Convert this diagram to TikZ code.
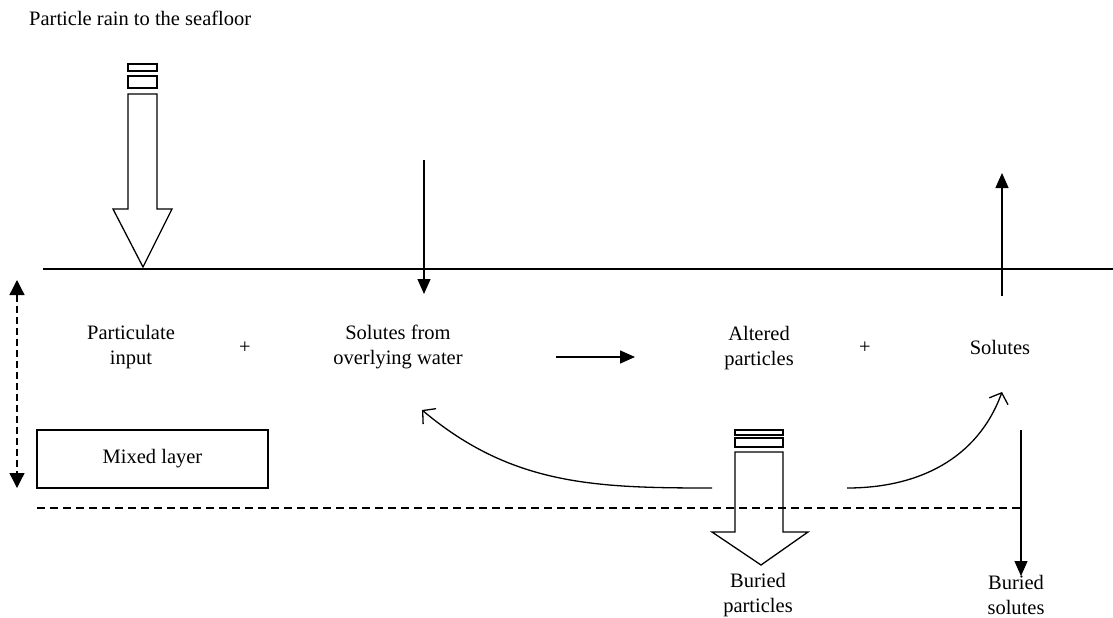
\documentclass[tikz,border=0pt]{standalone}
\usepackage{fontspec}
\setmainfont{Liberation Serif}
\usetikzlibrary{arrows.meta}

\tikzset{
    text node/.style={align=center, inner sep=0, font=\fontsize{20.5}{25}\selectfont},
    box node/.style={draw, line width=1.3pt, minimum width=231pt, minimum height=58pt, font=\fontsize{20.5}{25}\selectfont},
    flux/.style={line width=1.3pt, -{Triangle[length=15pt,width=13pt]}},
    barb/.style={line width=1.3pt, -{Straight Barb[length=9pt,width=20pt]}},
    hollow/.style={draw, line width=1.3pt},
    thin/.style={line width=1.3pt}
    }

\begin{document}
\begin{tikzpicture}[x=1pt,y=-1pt]
                \useasboundingbox (0,0) rectangle (1113,618);
                % texts
                \node(rain)[text node, anchor=base west] at (29,26) {Particle rain to the seafloor};
                \node(partin)[text node] at (131,347) {Particulate\\input};
                \node(plus1)[text node] at (245,348) {+};
                \node(solin)[text node] at (398,347) {Solutes from\\overlying water};
                \node(altered)[text node] at (759,348) {Altered\\particles};
                \node(plus2)[text node] at (865,348) {+};
                \node(solutes)[text node] at (1000,347) {Solutes};
                \node(mixed)[box node] at (152.5,459) {Mixed layer};
                \node(burpart)[text node] at (758,595) {Buried\\particles};
                \node(bursol)[text node] at (1016,595) {Buried\\solutes};
                % end points
                \coordinate(inTop) at (424,160);
                \coordinate(inBot) at (424,294);
                \coordinate(outBot) at (1002,296);
                \coordinate(outTop) at (1002,173);
                \coordinate(reactA) at (556,357);
                \coordinate(reactB) at (635,357);
                \coordinate(backL) at (712,488);
                \coordinate(backTip) at (422,410);
                \coordinate(backR) at (847,488);
                \coordinate(upTip) at (1002,392);
                \coordinate(downTop) at (1021,430);
                \coordinate(downTip) at (1021,576);
                \coordinate(mixTop) at (17,280);
                \coordinate(mixBot) at (17,488);
                % seafloor and base of mixed layer
                \draw[thin] (43,269) -- (1113,269);
                \draw[thin, dash pattern=on 8pt off 5pt] (37,508) -- (1020,508);
                % particle rain
                \draw[hollow] (128,64) rectangle (157,71);
                \draw[hollow] (128,76) rectangle (157,88);
                \draw[hollow] (128,94) -- (128,209) -- (113,209) -- (143,267) -- (172,209) -- (157,209) -- (157,94) -- cycle;
                % burial of particles
                \draw[hollow] (735,430) rectangle (783,435);
                \draw[hollow] (735,438) rectangle (783,447);
                \draw[hollow] (735,452) -- (735,532) -- (712,532) -- (761,565) -- (808,532) -- (783,532) -- (783,452) -- cycle;
                % fluxes
                \draw[flux] (inTop) -- (inBot);
                \draw[flux] (outBot) -- (outTop);
                \draw[flux] (reactA) -- (reactB);
                \draw[flux] (downTop) -- (downTip);
                \draw[flux, {Triangle[length=15pt,width=15pt]}-{Triangle[length=15pt,width=15pt]}, dash pattern=on 7pt off 4pt] (mixTop) -- (mixBot);
                \draw[barb] (backL) to[out=180, in=-40] (backTip);
                \draw[barb] (backR) to[out=0, in=-110] (upTip);
            \end{tikzpicture}
\end{document}
